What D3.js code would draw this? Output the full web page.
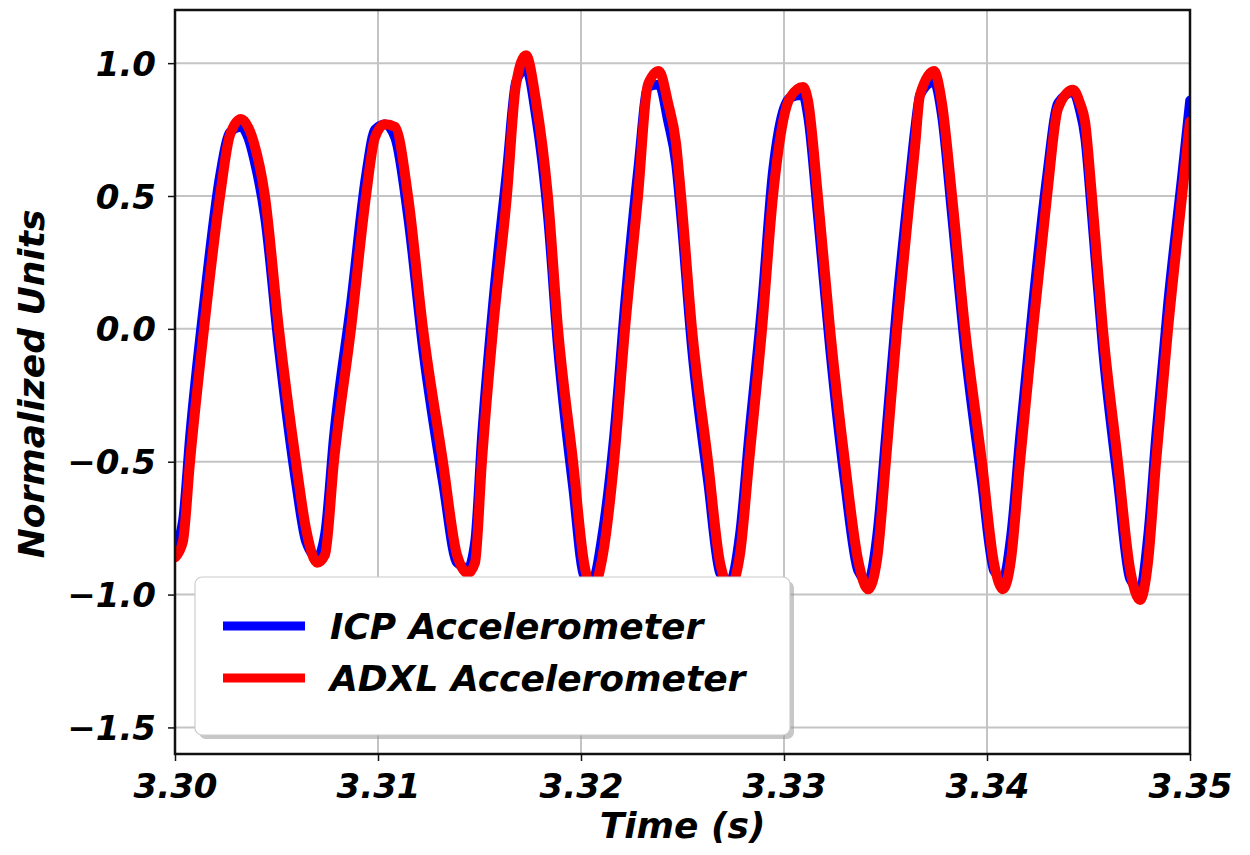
<!DOCTYPE html>
<html>
<head>
<meta charset="utf-8">
<script src="https://cdn.jsdelivr.net/npm/d3@7"></script>
<style>
  html, body { margin: 0; padding: 0; background: #fff; }
  svg { display: block; }
  text { font-family: "DejaVu Sans", sans-serif; font-weight: bold; font-style: italic; fill: #000; }
</style>
</head>
<body>
<svg id="chart" width="1250" height="855"></svg>
<script>
// ---- Data ----
const times = [
  3.30000, 3.30039, 3.30074, 3.30143, 3.30222, 3.30271, 3.30325, 3.30360, 3.30389, 3.30443,
  3.30512, 3.30596, 3.30645, 3.30700, 3.30739, 3.30783, 3.30867, 3.30941, 3.30985, 3.31034,
  3.31084, 3.31148, 3.31222, 3.31320, 3.31389, 3.31443, 3.31478, 3.31512, 3.31567, 3.31635,
  3.31680, 3.31729, 3.31778, 3.31837, 3.31887, 3.31961, 3.32015, 3.32054, 3.32108, 3.32163,
  3.32217, 3.32281, 3.32330, 3.32384, 3.32429, 3.32468, 3.32493, 3.32547, 3.32626, 3.32685,
  3.32734, 3.32783, 3.32828, 3.32892, 3.32946, 3.33030, 3.33094, 3.33118, 3.33167, 3.33227,
  3.33300, 3.33365, 3.33414, 3.33458, 3.33502, 3.33557, 3.33621, 3.33645, 3.33670, 3.33739,
  3.33778, 3.33828, 3.33892, 3.33975, 3.34034, 3.34079, 3.34118, 3.34163, 3.34227, 3.34296,
  3.34350, 3.34424, 3.34458, 3.34483, 3.34517, 3.34571, 3.34645, 3.34704, 3.34754, 3.34793,
  3.34833, 3.34892, 3.34961, 3.35000
];
const icpValues = [
  -0.82, -0.72, -0.40,  0.10,  0.58,  0.74,  0.76,  0.72,  0.64,  0.42,
  -0.08, -0.58, -0.80, -0.86, -0.77, -0.40,  0.10,  0.58,  0.75,  0.77,
   0.72,  0.42, -0.08, -0.58, -0.88, -0.90, -0.80, -0.40,  0.10,  0.60,
   0.93,  0.98,  0.80,  0.42, -0.08, -0.60, -0.93, -0.95, -0.76, -0.40,
   0.10,  0.60,  0.91,  0.92,  0.78,  0.62,  0.42, -0.08, -0.58, -0.92,
  -0.95, -0.77, -0.40,  0.10,  0.60,  0.87,  0.88,  0.80,  0.42, -0.08,
  -0.58, -0.91, -0.95, -0.78, -0.40,  0.10,  0.58,  0.75,  0.88,  0.93,
   0.80,  0.42, -0.08, -0.58, -0.91, -0.94, -0.78, -0.40,  0.10,  0.58,
   0.85,  0.89,  0.82,  0.72,  0.42, -0.08, -0.58, -0.94, -0.98, -0.78,
  -0.40,  0.10,  0.58,  0.86
];
const adxlValues = [
  -0.86, -0.80, -0.50,  0.00,  0.50,  0.73,  0.79,  0.76,  0.70,  0.50,
   0.00, -0.50, -0.75, -0.88, -0.85, -0.50,  0.00,  0.50,  0.72,  0.77,
   0.76,  0.50,  0.00, -0.50, -0.85, -0.92, -0.88, -0.50,  0.00,  0.50,
   0.92,  1.03,  0.86,  0.50,  0.00, -0.50, -0.88, -0.98, -0.85, -0.50,
   0.00,  0.50,  0.92,  0.97,  0.85,  0.70,  0.50,  0.00, -0.50, -0.88,
  -0.97, -0.85, -0.50,  0.00,  0.50,  0.87,  0.91,  0.86,  0.50,  0.00,
  -0.50, -0.87, -0.98, -0.87, -0.50,  0.00,  0.50,  0.68,  0.88,  0.97,
   0.85,  0.50,  0.00, -0.50, -0.88, -0.98, -0.87, -0.50,  0.00,  0.50,
   0.83,  0.90,  0.85,  0.78,  0.50,  0.00, -0.50, -0.90, -1.02, -0.88,
  -0.50,  0.00,  0.50,  0.78
];
const seriesNames = ["ICP Accelerometer", "ADXL Accelerometer"];
const seriesColors = ["#0000ff", "#ff0000"];
const xTicks = [3.30, 3.31, 3.32, 3.33, 3.34, 3.35];
const yTicks = [-1.5, -1.0, -0.5, 0.0, 0.5, 1.0];
const xDomain = [3.30, 3.35];
const yDomain = [-1.6, 1.2];
const xTitle = "Time (s)";
const yTitle = "Normalized Units";

// ---- Layout ----
const plot = { left: 175, right: 1190, top: 10, bottom: 754 };
const svg = d3.select("#chart");

const x = d3.scaleLinear().domain(xDomain).range([plot.left, plot.right]);
const y = d3.scaleLinear().domain(yDomain).range([plot.bottom, plot.top]);

// clip
svg.append("defs").append("clipPath").attr("id", "plotClip")
  .append("rect")
  .attr("x", plot.left).attr("y", plot.top)
  .attr("width", plot.right - plot.left).attr("height", plot.bottom - plot.top);

// grid
const grid = svg.append("g");
grid.selectAll("line.gx").data(xTicks).join("line")
  .attr("x1", d => x(d)).attr("x2", d => x(d))
  .attr("y1", plot.top).attr("y2", plot.bottom)
  .attr("stroke", "#c4c4c4").attr("stroke-width", 2);
grid.selectAll("line.gy").data(yTicks).join("line")
  .attr("x1", plot.left).attr("x2", plot.right)
  .attr("y1", d => y(d)).attr("y2", d => y(d))
  .attr("stroke", "#c4c4c4").attr("stroke-width", 2);

// lines
const seriesData = [icpValues, adxlValues].map(vals => times.map((t, i) => ({ t, v: vals[i] })));
const line = d3.line().x(d => x(d.t)).y(d => y(d.v)).curve(d3.curveMonotoneX);
const lw = [9.5, 10];
svg.append("g").attr("clip-path", "url(#plotClip)")
  .selectAll("path").data(seriesData).join("path")
  .attr("d", line)
  .attr("fill", "none")
  .attr("stroke", (d, i) => seriesColors[i])
  .attr("stroke-width", (d, i) => lw[i])
  .attr("stroke-linejoin", "round")
  .attr("stroke-linecap", "round");

// axes
const xAxis = d3.axisBottom(x).tickValues(xTicks).tickFormat(d3.format(".2f"))
  .tickSize(7).tickPadding(6);
const yAxis = d3.axisLeft(y).tickValues(yTicks).tickFormat(d3.format(".1f"))
  .tickSize(7).tickPadding(10);

const gx = svg.append("g").attr("transform", `translate(0,${plot.bottom})`).call(xAxis);
const gy = svg.append("g").attr("transform", `translate(${plot.left},0)`).call(yAxis);
[gx, gy].forEach(g => {
  g.select(".domain").remove();
  g.selectAll(".tick line").attr("stroke", "#111").attr("stroke-width", 1.5);
  g.selectAll(".tick text")
    .style("font-family", '"DejaVu Sans", sans-serif')
    .style("font-weight", "bold").style("font-style", "italic")
    .style("font-size", "34px").attr("fill", "#000");
});
gx.selectAll(".tick text").attr("dy", null).attr("y", 44);
gy.selectAll(".tick text").attr("dy", null).attr("y", 12).attr("x", -19);

// frame
svg.append("rect")
  .attr("x", plot.left).attr("y", plot.top)
  .attr("width", plot.right - plot.left).attr("height", plot.bottom - plot.top)
  .attr("fill", "none").attr("stroke", "#111").attr("stroke-width", 2.5);

// axis titles
svg.append("text")
  .attr("x", (plot.left + plot.right) / 2).attr("y", 838)
  .attr("text-anchor", "middle").style("font-size", "36px")
  .text(xTitle);
svg.append("text")
  .attr("transform", `translate(44,${(plot.top + plot.bottom) / 2 + 2}) rotate(-90)`)
  .attr("text-anchor", "middle").style("font-size", "36px")
  .text(yTitle);

// legend
const lg = svg.append("g");
const lb = { x: 195, y: 577, w: 595, h: 158 };
lg.append("rect")
  .attr("x", lb.x + 4).attr("y", lb.y + 4).attr("width", lb.w).attr("height", lb.h)
  .attr("rx", 7).attr("fill", "#999").attr("opacity", 0.55);
lg.append("rect")
  .attr("x", lb.x).attr("y", lb.y).attr("width", lb.w).attr("height", lb.h)
  .attr("rx", 7).attr("fill", "#fff").attr("stroke", "#cccccc").attr("stroke-width", 1.2);
const rowY = [626, 678];
const items = lg.selectAll("g.item").data(seriesNames).join("g")
  .attr("transform", (d, i) => `translate(0,${rowY[i]})`);
items.append("line")
  .attr("x1", 223).attr("x2", 305).attr("y1", 0).attr("y2", 0)
  .attr("stroke", (d, i) => seriesColors[i]).attr("stroke-width", 9);
items.append("text")
  .attr("x", 330).attr("y", 13)
  .style("font-size", "36px")
  .text(d => d);
</script>
</body>
</html>
